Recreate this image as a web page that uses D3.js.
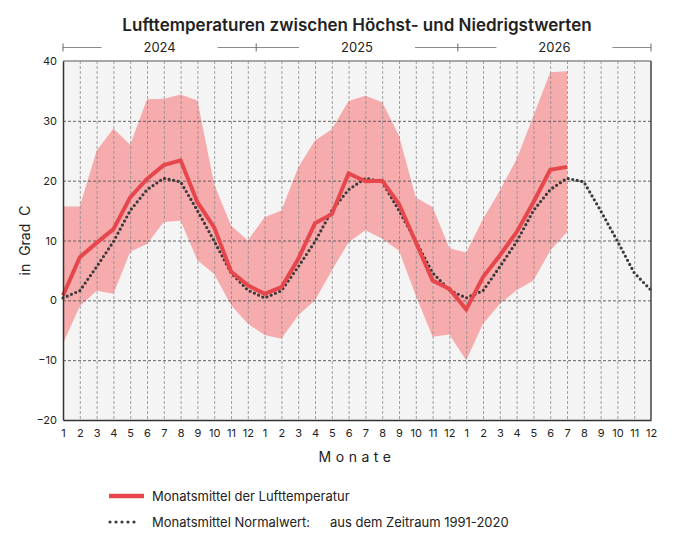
<!DOCTYPE html>
<html>
<head>
<meta charset="utf-8">
<script src="https://cdn.jsdelivr.net/npm/d3@7"></script>
<style>
  body { margin: 0; background: #fff; }
  svg text { font-family: Inter, "Noto Sans", sans-serif; fill: #222; }
</style>
</head>
<body>
<div id="chart"></div>
<script>
// Data
const years = ["2024", "2025", "2026"];
const monthLabels = ["1", "2", "3", "4", "5", "6", "7", "8", "9", "10", "11", "12"];

// monthly mean, Jan 2024 .. Jul 2026
const meanTemp = [0.8, 7.2, 9.6, 11.9, 17.2, 20.3, 22.6, 23.4, 16.4, 12.2, 4.8, 2.5,
                  1.1, 2.2, 6.9, 12.9, 14.4, 21.2, 19.9, 20.0, 16.1, 9.7, 3.3, 1.9,
                  -1.5, 3.9, 7.5, 11.4, 16.4, 21.8, 22.3];
// highest values
const maxTemp = [15.7, 15.7, 25.0, 28.7, 26.0, 33.6, 33.7, 34.4, 33.4, 19.4, 12.5, 10.0,
                 13.9, 15.0, 22.2, 26.7, 28.6, 33.3, 34.2, 33.1, 27.5, 17.2, 15.6, 8.7,
                 8.0, 13.6, 18.3, 23.6, 30.8, 38.1, 38.3];
// lowest values
const minTemp = [-7.2, -1.0, 1.6, 1.1, 8.1, 9.4, 13.1, 13.3, 6.7, 4.4, -0.8, -3.9,
                 -5.8, -6.4, -2.5, 0.0, 5.0, 9.7, 11.7, 10.3, 8.3, 0.8, -6.1, -5.7,
                 -10.0, -3.9, -0.6, 1.7, 3.3, 8.3, 11.4];
// normal 1991-2020 (same every year)
const normalTemp = [0.4, 1.6, 5.6, 9.8, 15.0, 18.5, 20.4, 19.8, 15.0, 9.9, 4.6, 1.7];

const yTicks = [-20, -10, 0, 10, 20, 30, 40];

const width = 682, height = 539;
const margin = {top: 61, right: 31, bottom: 119, left: 63};
const plotW = width - margin.left - margin.right;
const plotH = height - margin.top - margin.bottom;
const nMonths = years.length * monthLabels.length;

const svg = d3.select("#chart").append("svg")
  .attr("width", width)
  .attr("height", height);

const x = d3.scaleLinear().domain([0, nMonths - 1]).range([margin.left, margin.left + plotW]);
const y = d3.scaleLinear().domain([-20, 40]).range([margin.top + plotH, margin.top]);

const red = "#e6474d", band = "#f6abad", dark = "#3a3a3a";

// title
svg.append("text")
  .attr("x", x((nMonths - 1) / 2)).attr("y", 31)
  .attr("text-anchor", "middle")
  .style("font-size", "17px").style("font-weight", 600)
  .text("Lufttemperaturen zwischen Höchst- und Niedrigstwerten");

// plot background
svg.append("rect")
  .attr("x", margin.left).attr("y", margin.top)
  .attr("width", plotW).attr("height", plotH)
  .attr("fill", "#f4f4f4");

// band min..max
const months = d3.range(meanTemp.length);
svg.append("path")
  .datum(months)
  .attr("fill", band)
  .attr("d", d3.area()
    .x(i => x(i))
    .y0(i => y(minTemp[i]))
    .y1(i => y(maxTemp[i])));

// vertical grid
svg.append("g")
  .attr("transform", `translate(0,${margin.top})`)
  .call(d3.axisBottom(x).tickValues(d3.range(1, nMonths - 1)).tickSize(plotH).tickFormat(""))
  .call(g => g.select(".domain").remove())
  .call(g => g.selectAll("line").attr("stroke", "#8a8a8a").attr("stroke-dasharray", "3,2").attr("stroke-width", 0.8));

// horizontal grid
svg.append("g")
  .attr("transform", `translate(${margin.left},0)`)
  .call(d3.axisRight(y).tickValues(yTicks.slice(1, -1)).tickSize(plotW).tickFormat(""))
  .call(g => g.select(".domain").remove())
  .call(g => g.selectAll("line").attr("stroke", "#555").attr("stroke-dasharray", "3,2").attr("stroke-width", 0.9));

// normal (dotted)
const normalSeries = d3.range(nMonths).map(i => normalTemp[i % 12]);
svg.append("path")
  .datum(normalSeries)
  .attr("fill", "none")
  .attr("stroke", dark)
  .attr("stroke-width", 3.2)
  .attr("stroke-linecap", "round")
  .attr("stroke-dasharray", "0,4.6")
  .attr("d", d3.line().x((d, i) => x(i)).y(d => y(d)));

// monthly mean (red)
svg.append("path")
  .datum(meanTemp)
  .attr("fill", "none")
  .attr("stroke", red)
  .attr("stroke-width", 4)
  .attr("d", d3.line().x((d, i) => x(i)).y(d => y(d)));

// frame
svg.append("line").attr("x1", margin.left).attr("x2", margin.left + plotW)
  .attr("y1", margin.top).attr("y2", margin.top).attr("stroke", "#8c8c8c").attr("stroke-width", 1.5);
svg.append("line").attr("x1", margin.left + plotW).attr("x2", margin.left + plotW)
  .attr("y1", margin.top).attr("y2", margin.top + plotH).attr("stroke", "#444").attr("stroke-width", 1.5);

// x axis
svg.append("g")
  .attr("transform", `translate(0,${margin.top + plotH})`)
  .call(d3.axisBottom(x).tickValues(d3.range(nMonths)).tickSize(0).tickPadding(9)
    .tickFormat(i => monthLabels[i % 12]))
  .call(g => g.select(".domain").attr("stroke", "#333").attr("stroke-width", 1.5))
  .call(g => g.selectAll("text").style("font-size", "11px").attr("fill", "#222"));

// y axis
svg.append("g")
  .attr("transform", `translate(${margin.left},0)`)
  .call(d3.axisLeft(y).tickValues(yTicks).tickSize(0).tickPadding(6))
  .call(g => g.select(".domain").attr("stroke", "#333").attr("stroke-width", 1.5))
  .call(g => g.selectAll("text").style("font-size", "11px").attr("fill", "#222"));

// axis titles
svg.append("text")
  .attr("x", x((nMonths - 1) / 2)).attr("y", 462)
  .attr("text-anchor", "middle")
  .style("font-size", "14px").style("letter-spacing", "4.5px")
  .text("Monate");

svg.append("text")
  .attr("transform", `translate(30,${margin.top + plotH / 2}) rotate(-90)`)
  .attr("text-anchor", "middle")
  .style("font-size", "14px").style("word-spacing", "4px")
  .text("in Grad C");

// year header
const yearY = 47.5, gapHalf = 58;
years.forEach((yr, k) => {
  const x0 = k === 0 ? x(0) : x(k * 12 - 0.5);
  const x1 = k === years.length - 1 ? x(nMonths - 1) : x(k * 12 + 11.5);
  const cx = (x0 + x1) / 2;
  const g = svg.append("g");
  g.append("line").attr("x1", x0).attr("x2", cx - gapHalf).attr("y1", yearY).attr("y2", yearY)
    .attr("stroke", "#8c8c8c").attr("stroke-width", 1);
  g.append("line").attr("x1", cx + gapHalf).attr("x2", x1).attr("y1", yearY).attr("y2", yearY)
    .attr("stroke", "#8c8c8c").attr("stroke-width", 1);
  g.append("text").attr("x", cx).attr("y", yearY + 4.5)
    .attr("text-anchor", "middle").style("font-size", "13px").text(yr);
});
// boundary ticks
const boundaries = [x(0)].concat(years.slice(1).map((d, k) => x((k + 1) * 12 - 0.5)), [x(nMonths - 1)]);
svg.selectAll(".ytick").data(boundaries).enter().append("line")
  .attr("x1", d => d).attr("x2", d => d)
  .attr("y1", yearY - 4).attr("y2", yearY + 4)
  .attr("stroke", "#666").attr("stroke-width", 1);

// legend
const leg = svg.append("g");
leg.append("line").attr("x1", 109).attr("x2", 144).attr("y1", 496).attr("y2", 496)
  .attr("stroke", red).attr("stroke-width", 4.5);
leg.append("text").attr("x", 152).attr("y", 500.5).style("font-size", "13px")
  .text("Monatsmittel der Lufttemperatur");
leg.append("line").attr("x1", 110).attr("x2", 140).attr("y1", 522).attr("y2", 522)
  .attr("stroke", dark).attr("stroke-width", 3.2).attr("stroke-linecap", "round")
  .attr("stroke-dasharray", "0,6");
leg.append("text").attr("x", 152).attr("y", 526.5).style("font-size", "13px")
  .text("Monatsmittel Normalwert:");
leg.append("text").attr("x", 330).attr("y", 526.5).style("font-size", "13px")
  .text("aus dem Zeitraum 1991-2020");
</script>
</body>
</html>
